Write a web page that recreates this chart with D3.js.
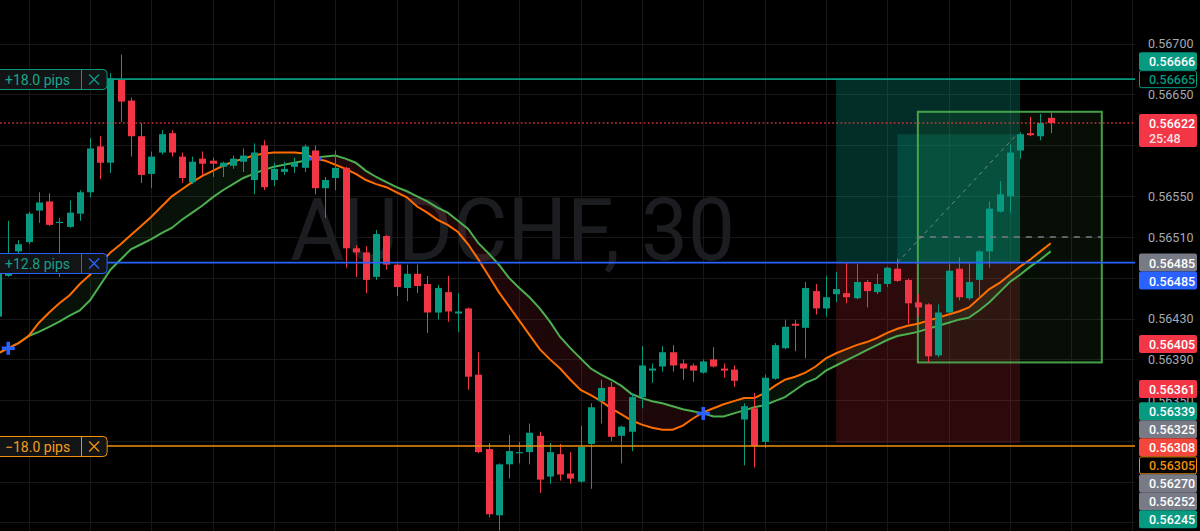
<!DOCTYPE html>
<html>
<head>
<meta charset="utf-8">
<script src="https://cdn.jsdelivr.net/npm/d3@7"></script>
<style>
  html, body { margin: 0; padding: 0; background: #000; }
  svg { display: block; font-family: Roboto, "Liberation Sans", sans-serif; }
</style>
</head>
<body>
<div id="chart"></div>
<script>
var symbol = "AUDCHF, 30";
var firstBar = -3;

// [open, high, low, close], one row per 30m bar, bar index starts at firstBar
var candles = [
  [0.56432, 0.56478, 0.56429, 0.56475], [0.56472, 0.56526, 0.56471, 0.56490], [0.56496, 0.56507, 0.56492, 0.56503],
  [0.56505, 0.56535, 0.56503, 0.56533], [0.56536, 0.56554, 0.56524, 0.56544], [0.56545, 0.56553, 0.56521, 0.56522],
  [0.56524, 0.56529, 0.56471, 0.56525], [0.56520, 0.56546, 0.56519, 0.56534], [0.56533, 0.56556, 0.56526, 0.56554],
  [0.56554, 0.56607, 0.56549, 0.56597], [0.56599, 0.56609, 0.56567, 0.56583], [0.56583, 0.56671, 0.56573, 0.56666],
  [0.56665, 0.56689, 0.56623, 0.56643], [0.56644, 0.56647, 0.56589, 0.56609], [0.56609, 0.56622, 0.56563, 0.56571],
  [0.56572, 0.56594, 0.56558, 0.56589], [0.56593, 0.56615, 0.56591, 0.56611], [0.56612, 0.56615, 0.56589, 0.56593],
  [0.56589, 0.56593, 0.56563, 0.56568], [0.56564, 0.56589, 0.56562, 0.56584], [0.56587, 0.56594, 0.56571, 0.56582],
  [0.56585, 0.56588, 0.56569, 0.56582], [0.56579, 0.56584, 0.56569, 0.56583], [0.56580, 0.56590, 0.56577, 0.56587],
  [0.56584, 0.56597, 0.56574, 0.56590], [0.56566, 0.56602, 0.56552, 0.56593], [0.56600, 0.56605, 0.56556, 0.56559],
  [0.56566, 0.56583, 0.56560, 0.56577], [0.56574, 0.56584, 0.56571, 0.56577], [0.56579, 0.56588, 0.56573, 0.56583],
  [0.56578, 0.56601, 0.56574, 0.56599], [0.56595, 0.56600, 0.56552, 0.56558], [0.56558, 0.56569, 0.56529, 0.56566],
  [0.56568, 0.56595, 0.56556, 0.56578], [0.56578, 0.56579, 0.56480, 0.56499], [0.56499, 0.56502, 0.56471, 0.56495],
  [0.56495, 0.56501, 0.56455, 0.56468], [0.56471, 0.56517, 0.56468, 0.56513], [0.56511, 0.56512, 0.56478, 0.56483],
  [0.56483, 0.56484, 0.56452, 0.56461], [0.56460, 0.56483, 0.56447, 0.56474], [0.56474, 0.56483, 0.56455, 0.56462],
  [0.56464, 0.56472, 0.56416, 0.56436], [0.56436, 0.56463, 0.56429, 0.56460], [0.56456, 0.56472, 0.56427, 0.56437],
  [0.56435, 0.56455, 0.56417, 0.56437], [0.56440, 0.56441, 0.56360, 0.56373], [0.56375, 0.56397, 0.56298, 0.56299],
  [0.56302, 0.56308, 0.56235, 0.56238], [0.56237, 0.56288, 0.56222, 0.56287], [0.56287, 0.56316, 0.56273, 0.56300],
  [0.56298, 0.56309, 0.56288, 0.56299], [0.56299, 0.56327, 0.56287, 0.56318], [0.56315, 0.56319, 0.56259, 0.56272],
  [0.56275, 0.56308, 0.56268, 0.56299], [0.56297, 0.56307, 0.56271, 0.56277], [0.56278, 0.56299, 0.56268, 0.56273],
  [0.56270, 0.56325, 0.56269, 0.56304], [0.56307, 0.56347, 0.56263, 0.56343], [0.56349, 0.56370, 0.56327, 0.56362],
  [0.56363, 0.56368, 0.56310, 0.56314], [0.56315, 0.56325, 0.56288, 0.56324], [0.56319, 0.56357, 0.56300, 0.56353],
  [0.56353, 0.56403, 0.56342, 0.56384], [0.56379, 0.56386, 0.56367, 0.56381], [0.56383, 0.56403, 0.56378, 0.56397],
  [0.56397, 0.56404, 0.56378, 0.56384], [0.56386, 0.56390, 0.56370, 0.56381], [0.56384, 0.56386, 0.56368, 0.56379],
  [0.56377, 0.56390, 0.56376, 0.56388], [0.56390, 0.56402, 0.56382, 0.56383], [0.56381, 0.56386, 0.56372, 0.56379],
  [0.56380, 0.56384, 0.56363, 0.56369], [0.56331, 0.56347, 0.56286, 0.56344], [0.56342, 0.56357, 0.56284, 0.56305],
  [0.56309, 0.56375, 0.56303, 0.56372], [0.56371, 0.56406, 0.56370, 0.56404], [0.56401, 0.56429, 0.56400, 0.56422],
  [0.56425, 0.56429, 0.56398, 0.56423], [0.56421, 0.56466, 0.56391, 0.56460], [0.56457, 0.56464, 0.56434, 0.56440],
  [0.56440, 0.56472, 0.56432, 0.56451], [0.56454, 0.56476, 0.56446, 0.56459], [0.56455, 0.56485, 0.56445, 0.56451],
  [0.56450, 0.56484, 0.56449, 0.56466], [0.56466, 0.56468, 0.56441, 0.56457], [0.56456, 0.56474, 0.56454, 0.56464],
  [0.56464, 0.56481, 0.56461, 0.56480], [0.56479, 0.56489, 0.56466, 0.56467], [0.56468, 0.56469, 0.56425, 0.56445],
  [0.56446, 0.56454, 0.56432, 0.56441], [0.56444, 0.56445, 0.56387, 0.56393], [0.56394, 0.56444, 0.56392, 0.56436],
  [0.56436, 0.56485, 0.56435, 0.56477], [0.56479, 0.56490, 0.56448, 0.56451], [0.56450, 0.56485, 0.56448, 0.56466],
  [0.56468, 0.56497, 0.56450, 0.56496], [0.56496, 0.56545, 0.56480, 0.56538], [0.56535, 0.56565, 0.56534, 0.56552],
  [0.56550, 0.56601, 0.56534, 0.56593], [0.56595, 0.56613, 0.56587, 0.56611], [0.56612, 0.56628, 0.56609, 0.56610],
  [0.56609, 0.56631, 0.56605, 0.56622], [0.56627, 0.56632, 0.56612, 0.56622]
];

// fast EMA (orange) and slow EMA (green), read per bar
var emaFast = [
  0.56396, 0.56401, 0.56406, 0.56413, 0.56426, 0.56436, 0.56445, 0.56453, 0.56464, 0.56473,
  0.56484, 0.56495, 0.56503, 0.56512, 0.56521, 0.56530, 0.56540, 0.56550, 0.56557, 0.56564,
  0.56570, 0.56575, 0.56580, 0.56584, 0.56587, 0.56590, 0.56592, 0.56593, 0.56593, 0.56593,
  0.56592, 0.56587, 0.56585, 0.56581, 0.56577, 0.56572, 0.56566, 0.56562, 0.56559, 0.56554,
  0.56549, 0.56540, 0.56534, 0.56527, 0.56522, 0.56515, 0.56503, 0.56488, 0.56472, 0.56456,
  0.56442, 0.56428, 0.56414, 0.56400, 0.56390, 0.56381, 0.56370, 0.56360, 0.56355, 0.56349,
  0.56342, 0.56336, 0.56330, 0.56326, 0.56323, 0.56321, 0.56321, 0.56325, 0.56332, 0.56338,
  0.56342, 0.56346, 0.56349, 0.56352, 0.56352, 0.56357, 0.56364, 0.56370, 0.56373, 0.56377,
  0.56383, 0.56391, 0.56396, 0.56400, 0.56404, 0.56407, 0.56411, 0.56416, 0.56420, 0.56423,
  0.56425, 0.56428, 0.56431, 0.56434, 0.56437, 0.56441, 0.56450, 0.56459, 0.56465, 0.56473,
  0.56481, 0.56488, 0.56496, 0.56504
];
var emaSlow = [
  0.56396, 0.56401, 0.56406, 0.56413, 0.56417, 0.56422, 0.56427, 0.56433, 0.56438, 0.56448,
  0.56463, 0.56478, 0.56488, 0.56498, 0.56503, 0.56508, 0.56514, 0.56519, 0.56527, 0.56534,
  0.56541, 0.56549, 0.56556, 0.56562, 0.56568, 0.56572, 0.56576, 0.56579, 0.56581, 0.56583,
  0.56585, 0.56588, 0.56589, 0.56590, 0.56587, 0.56583, 0.56575, 0.56569, 0.56564, 0.56559,
  0.56555, 0.56550, 0.56545, 0.56539, 0.56534, 0.56526, 0.56518, 0.56504, 0.56494, 0.56483,
  0.56470, 0.56460, 0.56451, 0.56440, 0.56427, 0.56412, 0.56401, 0.56391, 0.56381, 0.56375,
  0.56370, 0.56364, 0.56356, 0.56352, 0.56349, 0.56347, 0.56344, 0.56341, 0.56339, 0.56337,
  0.56334, 0.56334, 0.56337, 0.56340, 0.56343, 0.56345, 0.56349, 0.56353, 0.56360, 0.56367,
  0.56371, 0.56379, 0.56384, 0.56389, 0.56394, 0.56399, 0.56404, 0.56409, 0.56413, 0.56415,
  0.56417, 0.56420, 0.56423, 0.56426, 0.56429, 0.56431, 0.56438, 0.56446, 0.56456, 0.56466,
  0.56473, 0.56481, 0.56488, 0.56496
];

// crossover markers [bar, price]
var crosses = [[-2, 0.56401], [28, 0.56587], [66, 0.56337]];

var priceTicks = [0.56700, 0.56650, 0.56600, 0.56550, 0.56510, 0.56470, 0.56430, 0.56390, 0.56350, 0.56310, 0.56270, 0.56230];

// horizontal line drawings with their pip labels
var hLines = [
  { price: 0.56665, text: "+18.0 pips", color: "#089981", textColor: "#1aa68c" },
  { price: 0.56485, text: "+12.8 pips", color: "#2962ff", textColor: "#1a9f88" },
  { price: 0.56305, text: "\u221218.0 pips", color: "#f0900c", textColor: "#f59f1a" }
];

// long position tool
var positionBars = [79, 97], entryBar = 85;
var entryPrice = 0.56485, targetPrice = 0.56666, stopPrice = 0.56308, reachedPrice = 0.56611;

// rectangle drawing
var rectBars = [87, 105], rectPrices = [0.56633, 0.56387];

var lastPrice = 0.56622, countdown = "25:48";

// price scale labels, drawn in this order; later ones move away from earlier ones
var axisLabels = [
  { price: 0.56665, bg: "#000", fg: "#089981", border: "#089981" },
  { price: 0.56666, bg: "#089981", fg: "#fff", dir: -1 },
  { price: 0.56622, bg: "#f23645", fg: "#fff", sub: countdown },
  { price: 0.56485, bg: "#787b86", fg: "#fff" },
  { price: 0.56485, bg: "#2962ff", fg: "#fff" },
  { price: 0.56405, bg: "#f23645", fg: "#fff" },
  { price: 0.56361, bg: "#f23645", fg: "#fff" },
  { price: 0.56339, bg: "#089981", fg: "#fff" },
  { price: 0.56325, bg: "#787b86", fg: "#fff" },
  { price: 0.56308, bg: "#f4473b", fg: "#fff" },
  { price: 0.56305, bg: "#000", fg: "#f0900c", border: "#f0900c" },
  { price: 0.56270, bg: "#787b86", fg: "#fff" },
  { price: 0.56252, bg: "#787b86", fg: "#fff" },
  { price: 0.56245, bg: "#089981", fg: "#fff" }
];

var W = 1200, H = 531, paneRight = 1135;
var up = "#089981", down = "#f23645";

var svg = d3.select("#chart").append("svg").attr("width", W).attr("height", H);
svg.append("rect").attr("width", W).attr("height", H).attr("fill", "#000");

var x = d3.scaleLinear().domain([0, 100]).range([28.7, 1050.7]);
var y = d3.scaleLinear().domain([0.56305, 0.56700]).range([446, 43.5]);

var bars = candles.map(function (c, k) {
  return { i: firstBar + k, o: c[0], h: c[1], l: c[2], c: c[3], fast: emaFast[k], slow: emaSlow[k] };
});

svg.append("defs").append("clipPath").attr("id", "pane")
  .append("rect").attr("width", paneRight).attr("height", H);
var pane = svg.append("g").attr("clip-path", "url(#pane)");

// grid
pane.selectAll(".vgrid").data(d3.range(0, 110, 6)).enter().append("line")
  .attr("x1", function (d) { return Math.round(x(d)) + 0.5; })
  .attr("x2", function (d) { return Math.round(x(d)) + 0.5; })
  .attr("y1", 0).attr("y2", H)
  .attr("stroke", "#171717");
pane.selectAll(".hgrid").data(priceTicks).enter().append("line")
  .attr("x1", 0).attr("x2", paneRight)
  .attr("y1", function (d) { return Math.round(y(d)) + 0.5; })
  .attr("y2", function (d) { return Math.round(y(d)) + 0.5; })
  .attr("stroke", "#171717");

// watermark
pane.append("text").text(symbol)
  .attr("x", 290).attr("y", 260)
  .attr("textLength", 445).attr("lengthAdjust", "spacingAndGlyphs")
  .attr("font-size", 88).attr("fill", "#1c1d20");

// position zones
var px0 = x(positionBars[0]), px1 = x(positionBars[1]);
pane.append("rect").attr("x", px0).attr("width", px1 - px0)
  .attr("y", y(targetPrice)).attr("height", y(entryPrice) - y(targetPrice))
  .attr("fill", "rgba(8,153,129,0.3)");
pane.append("rect").attr("x", x(entryBar)).attr("width", px1 - x(entryBar))
  .attr("y", y(reachedPrice)).attr("height", y(entryPrice) - y(reachedPrice))
  .attr("fill", "rgba(8,153,129,0.25)");
pane.append("rect").attr("x", px0).attr("width", px1 - px0)
  .attr("y", y(entryPrice)).attr("height", y(stopPrice) - y(entryPrice))
  .attr("fill", "rgba(242,54,69,0.18)");

// rectangle
var rx0 = x(rectBars[0]), rx1 = x(rectBars[1]);
pane.append("rect").attr("x", rx0).attr("width", rx1 - rx0)
  .attr("y", y(rectPrices[0])).attr("height", y(rectPrices[1]) - y(rectPrices[0]))
  .attr("fill", "rgba(76,175,80,0.08)")
  .attr("stroke", "#4caf50").attr("stroke-width", 2).attr("stroke-opacity", 0.9);

// EMA cloud fill, split where the lines cross
var line = d3.line();
for (var k = 0; k < bars.length - 1; k++) {
  var a = bars[k], b = bars[k + 1];
  var da = a.fast - a.slow, db = b.fast - b.slow;
  var pieces = [];
  if (da * db < 0) {
    var t = da / (da - db);
    var cx = a.i + t, cp = a.fast + t * (b.fast - a.fast);
    pieces.push({ s: da, pts: [[a.i, a.fast], [cx, cp], [a.i, a.slow]] });
    pieces.push({ s: db, pts: [[cx, cp], [b.i, b.fast], [b.i, b.slow]] });
  } else {
    pieces.push({ s: da + db, pts: [[a.i, a.fast], [b.i, b.fast], [b.i, b.slow], [a.i, a.slow]] });
  }
  pieces.forEach(function (p) {
    if (p.s === 0) return;
    pane.append("path")
      .attr("d", line(p.pts.map(function (q) { return [x(q[0]), y(q[1])]; })) + "Z")
      .attr("fill", p.s > 0 ? "rgba(76,175,80,0.1)" : "rgba(242,54,69,0.12)");
  });
}

var emaLine = function (key) {
  return d3.line().x(function (d) { return x(d.i); }).y(function (d) { return y(d[key]); });
};
pane.append("path").datum(bars).attr("d", emaLine("slow"))
  .attr("fill", "none").attr("stroke", "#4caf50").attr("stroke-width", 2);
pane.append("path").datum(bars).attr("d", emaLine("fast"))
  .attr("fill", "none").attr("stroke", "#ff6d00").attr("stroke-width", 2);

// crossover markers
pane.selectAll(".cross").data(crosses).enter().append("path")
  .attr("transform", function (d) { return "translate(" + x(d[0]) + "," + y(d[1]) + ")"; })
  .attr("d", "M-6.5,0H6.5M0,-6.5V6.5")
  .attr("stroke", "#2962ff").attr("stroke-width", 3.5);

// candles
var cg = pane.selectAll(".bar").data(bars).enter().append("g")
  .attr("fill", function (d) { return d.c >= d.o ? up : down; })
  .attr("stroke", function (d) { return d.c >= d.o ? up : down; });
cg.append("line")
  .attr("x1", function (d) { return Math.round(x(d.i)) + 0.5; })
  .attr("x2", function (d) { return Math.round(x(d.i)) + 0.5; })
  .attr("y1", function (d) { return y(d.h); })
  .attr("y2", function (d) { return y(d.l); })
  .attr("stroke-width", 1);
cg.append("rect")
  .attr("x", function (d) { return Math.round(x(d.i)) - 3; })
  .attr("width", 7)
  .attr("y", function (d) { return y(Math.max(d.o, d.c)); })
  .attr("height", function (d) { return Math.max(1.2, Math.abs(y(d.o) - y(d.c))); })
  .attr("stroke", "none");

// rectangle middle line and position path
pane.append("line")
  .attr("x1", rx0).attr("x2", rx1)
  .attr("y1", y((rectPrices[0] + rectPrices[1]) / 2)).attr("y2", y((rectPrices[0] + rectPrices[1]) / 2))
  .attr("stroke", "#787b86").attr("stroke-width", 1.5).attr("stroke-dasharray", "6,6");
pane.append("line")
  .attr("x1", x(entryBar)).attr("y1", y(entryPrice))
  .attr("x2", x(positionBars[1]) - 3).attr("y2", y(reachedPrice))
  .attr("stroke", "#9598a1").attr("stroke-opacity", 0.75).attr("stroke-dasharray", "4,4");

// last price line
pane.append("line")
  .attr("x1", 0).attr("x2", paneRight)
  .attr("y1", y(lastPrice)).attr("y2", y(lastPrice))
  .attr("stroke", down).attr("stroke-opacity", 0.85).attr("stroke-width", 1.4)
  .attr("stroke-dasharray", "1.7,2.4");

// horizontal line drawings
pane.selectAll(".hline").data(hLines).enter().append("line")
  .attr("x1", 0).attr("x2", paneRight)
  .attr("y1", function (d) { return y(d.price); })
  .attr("y2", function (d) { return y(d.price); })
  .attr("stroke", function (d) { return d.color; })
  .attr("stroke-width", 1.6);

hLines.forEach(function (d) {
  var cy = Math.round(y(d.price)) + 0.5;
  var g = pane.append("g");
  var bg = g.append("rect");
  var txt = g.append("text").text(d.text)
    .attr("x", 5).attr("y", cy + 0.5).attr("dominant-baseline", "central")
    .attr("font-size", 14).attr("fill", d.textColor);
  var tw = txt.node().getComputedTextLength();
  var div = 5 + tw + 11, end = div + 26;
  bg.attr("x", -6).attr("y", cy - 10).attr("width", end + 6).attr("height", 20).attr("rx", 4)
    .attr("fill", "#131416").attr("stroke", d.color);
  g.append("line").attr("x1", Math.round(div) + 0.5).attr("x2", Math.round(div) + 0.5)
    .attr("y1", cy - 10).attr("y2", cy + 10).attr("stroke", d.color);
  g.append("path")
    .attr("transform", "translate(" + (div + 13) + "," + cy + ")")
    .attr("d", "M-5,-5L5,5M5,-5L-5,5")
    .attr("stroke", d.color).attr("stroke-width", 1.4);
});

// price labels with simple collision handling
var placed = [];
axisLabels.forEach(function (d) {
  var h = d.sub ? 33 : 18;
  var top = y(d.price) - 9;
  var dir = d.dir || 1;
  var moved = true;
  while (moved) {
    moved = false;
    placed.forEach(function (p) {
      if (top < p.top + p.h - 0.01 && top + h > p.top + 0.01) {
        top = dir > 0 ? p.top + p.h : p.top - h;
        moved = true;
      }
    });
  }
  d.top = top; d.h = h;
  placed.push(d);
});

// price axis, ticks mostly covered by a label are left out
var shownTicks = priceTicks.filter(function (v) {
  var c = y(v);
  return !placed.some(function (p) {
    return Math.min(c + 6, p.top + p.h) - Math.max(c - 6, p.top) > 5;
  });
});
var axis = svg.append("g").attr("transform", "translate(" + paneRight + ",0)")
  .call(d3.axisRight(y).tickValues(shownTicks).tickFormat(d3.format(".5f")).tickSize(0).tickPadding(13));
axis.select(".domain").remove();
axis.selectAll("text").attr("font-size", 12.5).attr("fill", "#a6a9b1")
  .attr("font-family", "Roboto, 'Liberation Sans', sans-serif");

var lg = svg.selectAll(".plabel").data(axisLabels).enter().append("g");
lg.append("rect")
  .attr("x", function (d) { return d.border ? 1139.5 : 1139; })
  .attr("y", function (d) { return d.border ? d.top + 0.5 : d.top; })
  .attr("width", function (d) { return d.border ? 57 : 58; })
  .attr("height", function (d) { return d.border ? d.h - 1 : d.h; })
  .attr("rx", 2)
  .attr("fill", function (d) { return d.bg; })
  .attr("stroke", function (d) { return d.border || "none"; });
lg.append("text")
  .attr("x", 1149).attr("y", function (d) { return d.top + 9.5; })
  .attr("dominant-baseline", "central")
  .attr("font-size", 12.5).attr("font-weight", 500)
  .attr("fill", function (d) { return d.fg; })
  .text(function (d) { return d3.format(".5f")(d.price); });
lg.filter(function (d) { return d.sub; }).append("text")
  .attr("x", 1149).attr("y", function (d) { return d.top + 24.5; })
  .attr("dominant-baseline", "central")
  .attr("font-size", 12.5).attr("font-weight", 500)
  .attr("fill", "rgba(255,255,255,0.85)")
  .text(function (d) { return d.sub; });
</script>
</body>
</html>
